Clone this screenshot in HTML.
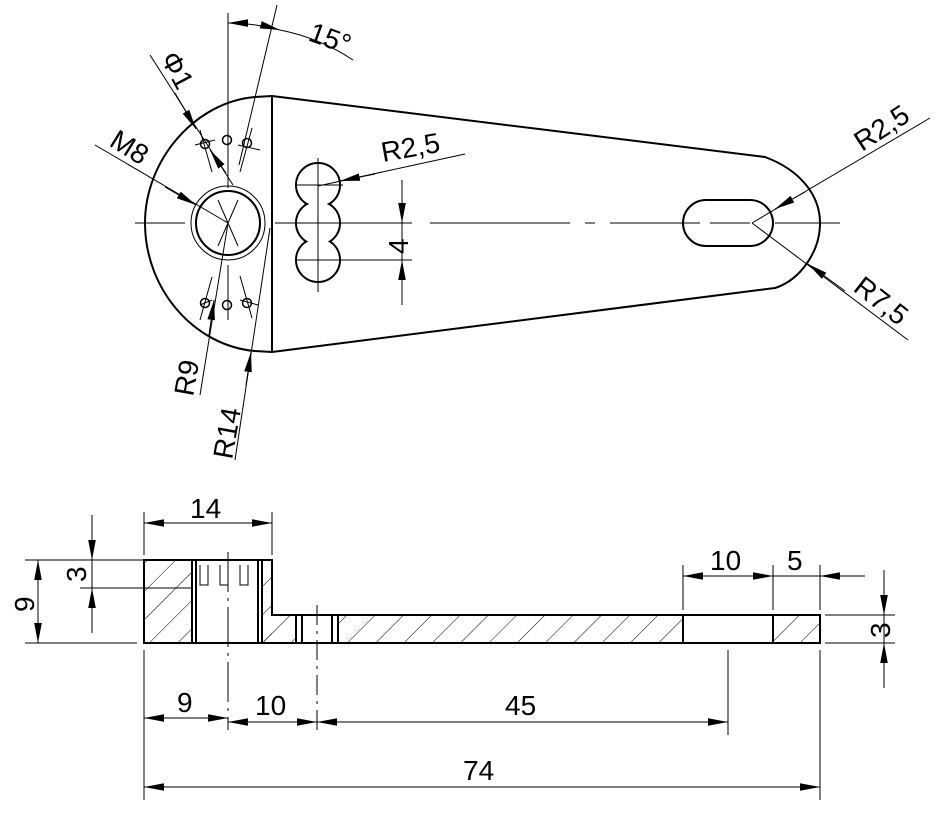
<!DOCTYPE html>
<html><head><style>
html,body{margin:0;padding:0;background:#fff}
svg{display:block}
text{font-family:"Liberation Sans",sans-serif;font-size:28px;fill:#000}
</style></head><body>
<svg width="946" height="816" viewBox="0 0 946 816" xmlns="http://www.w3.org/2000/svg">
<defs>
<marker id="a" viewBox="0 -5 20 10" refX="20" refY="0" markerWidth="20" markerHeight="10" markerUnits="userSpaceOnUse" orient="auto-start-reverse">
<path d="M0,-3.8 L20,0 L0,3.8 z" fill="#000"/></marker>
<pattern id="h" patternUnits="userSpaceOnUse" width="20" height="20" patternTransform="rotate(45)">
<line x1="0" y1="0" x2="0" y2="20" stroke="#000" stroke-width="1"/></pattern>
</defs>
<g fill="none" stroke="#000" stroke-width="1">
<g stroke-width="2">
<path d="M272,96 L255,97 C195,102 145,160 145,223 C145,290 195,346 255,351 L272,352"/>
<line x1="272" y1="96" x2="272" y2="352"/>
<path d="M272,96 L765,157 C800,170 820,195 820,223 C820,252 800,280 775,288 L272,352"/>
<rect x="683" y="200" width="90" height="46" rx="23"/>
<circle cx="228" cy="223" r="32"/>
<circle cx="318" cy="185" r="22"/><circle cx="318" cy="223" r="22"/><circle cx="318" cy="260" r="22"/>
</g>
<g fill="#fff" stroke="none">
<circle cx="318" cy="185" r="21"/><circle cx="318" cy="223" r="21"/><circle cx="318" cy="260" r="21"/>
</g>
<circle cx="228" cy="223" r="37"/>
<g stroke-width="1.5">
<circle cx="205" cy="144" r="4.5"/><circle cx="227" cy="140" r="4.5"/><circle cx="247" cy="143" r="4.5"/>
<circle cx="205" cy="303" r="4.5"/><circle cx="227" cy="305" r="4.5"/><circle cx="247" cy="303" r="4.5"/>
</g>
<line x1="195" y1="145" x2="215" y2="140"/><line x1="200" y1="130" x2="212" y2="172"/>
<line x1="238" y1="145" x2="260" y2="150"/><line x1="252" y1="128" x2="240" y2="172"/>
<line x1="200" y1="305" x2="212" y2="300"/><line x1="212" y1="277" x2="200" y2="320"/>
<line x1="240" y1="300" x2="258" y2="305"/><line x1="240" y1="276" x2="252" y2="318"/>
<line x1="228" y1="265" x2="228" y2="320"/>
<path d="M135,223 H185 M275,223 H350 M380,223 H390 M430,223 H570 M585,223 H595 M610,223 H700 M710,223 H750 M775,223 H840"/>
<line x1="228" y1="13" x2="228" y2="188"/>
<line x1="277" y1="5" x2="239" y2="165"/>
<line x1="218" y1="200" x2="238" y2="246"/><line x1="238" y1="200" x2="218" y2="246"/>
<line x1="297" y1="185" x2="343" y2="185"/><line x1="297" y1="260" x2="343" y2="260"/>
<line x1="318" y1="158" x2="318" y2="292"/>
<path d="M228,23 A200,200 0 0 1 280,30" marker-start="url(#a)" marker-end="url(#a)"/>
<path d="M280,30 Q320,38 353,60"/>
<line x1="150" y1="55" x2="233" y2="185"/>
<line x1="175" y1="93" x2="196" y2="129" marker-end="url(#a)"/>
<line x1="226" y1="173" x2="210" y2="150" marker-end="url(#a)"/>
<line x1="95" y1="145" x2="228" y2="223"/>
<line x1="165" y1="187" x2="196" y2="205" marker-end="url(#a)"/>
<line x1="228" y1="223" x2="200" y2="395"/>
<line x1="209" y1="335" x2="214" y2="300" marker-end="url(#a)"/>
<line x1="270" y1="228" x2="235" y2="460"/>
<line x1="246" y1="385" x2="251" y2="352" marker-end="url(#a)"/>
<line x1="318" y1="186" x2="465" y2="154"/>
<line x1="375" y1="174" x2="340" y2="181" marker-end="url(#a)"/>
<line x1="402" y1="180" x2="402" y2="305"/>
<line x1="402" y1="198" x2="402" y2="223" marker-end="url(#a)"/>
<line x1="402" y1="285" x2="402" y2="260" marker-end="url(#a)"/>
<line x1="322" y1="260" x2="412" y2="260"/>
<line x1="345" y1="223" x2="412" y2="223"/>
<line x1="752" y1="223" x2="930" y2="118"/>
<line x1="805" y1="192" x2="775" y2="209" marker-end="url(#a)"/>
<line x1="752" y1="223" x2="908" y2="340"/>
<line x1="845" y1="291" x2="808" y2="264" marker-end="url(#a)"/>

<g stroke="none">
<rect x="144" y="560" width="48" height="83" fill="url(#h)"/>
<rect x="262" y="560" width="10" height="83" fill="url(#h)"/>
<rect x="262" y="615" width="33" height="28" fill="url(#h)"/>
<rect x="338" y="615" width="345" height="28" fill="url(#h)"/>
<rect x="773" y="615" width="47" height="28" fill="url(#h)"/>
</g>
<path stroke-width="2" d="M144,560 H272 V615 H820 V643 H144 Z"/>
<g stroke-width="2">
<path d="M192,560 V643 M196,560 V643 M258,560 V643 M262,560 V643 M296,615 V643 M302,615 V643 M332,615 V643 M338,615 V643 M683,615 V643 M773,615 V643"/>
</g>
<path d="M200,565 V585 H208 V565 M220,565 V585 H228 V565 M240,565 V585 H248 V565"/>
<line x1="228" y1="552" x2="228" y2="730" stroke-dasharray="40,6,3,6"/>
<line x1="317" y1="605" x2="317" y2="732" stroke-dasharray="20,6,3,6"/>
<path d="M25,560 H144 M25,643 H137 M80,588 H193 M144,512 V555 M272,512 V555 M144,650 V800 M820,650 V800 M728,650 V735 M683,565 V610 M773,565 V610 M820,565 V610 M825,615 H895 M825,643 H895"/>
<line x1="144" y1="523" x2="272" y2="523" marker-start="url(#a)" marker-end="url(#a)"/>
<line x1="38" y1="560" x2="38" y2="643" marker-start="url(#a)" marker-end="url(#a)"/>
<line x1="92" y1="515" x2="92" y2="560" marker-end="url(#a)"/>
<line x1="92" y1="633" x2="92" y2="588" marker-end="url(#a)"/>
<line x1="92" y1="560" x2="92" y2="588"/>
<line x1="144" y1="718" x2="228" y2="718" marker-start="url(#a)" marker-end="url(#a)"/>
<line x1="228" y1="722" x2="317" y2="722" marker-start="url(#a)" marker-end="url(#a)"/>
<line x1="317" y1="722" x2="728" y2="722" marker-start="url(#a)" marker-end="url(#a)"/>
<line x1="144" y1="787" x2="820" y2="787" marker-start="url(#a)" marker-end="url(#a)"/>
<line x1="683" y1="576" x2="773" y2="576" marker-start="url(#a)" marker-end="url(#a)"/>
<line x1="773" y1="576" x2="820" y2="576"/>
<line x1="865" y1="576" x2="820" y2="576" marker-end="url(#a)"/>
<line x1="884" y1="570" x2="884" y2="615" marker-end="url(#a)"/>
<line x1="884" y1="688" x2="884" y2="643" marker-end="url(#a)"/>
<line x1="884" y1="615" x2="884" y2="643"/>
</g>
<text x="307" y="40" transform="rotate(20 307 40)">15°</text>
<text x="160" y="58" transform="rotate(62 160 58)">Φ1</text>
<text x="108" y="145" transform="rotate(32 108 145)">M8</text>
<text x="193" y="397" transform="rotate(-80 193 397)">R9</text>
<text x="232" y="460" transform="rotate(-80 232 460)">R14</text>
<text x="383" y="162" transform="rotate(-10 383 162)">R2,5</text>
<text x="408" y="254" transform="rotate(-90 408 254)">4</text>
<text x="862" y="152" transform="rotate(-33 862 152)">R2,5</text>
<text x="852" y="290" transform="rotate(38 852 290)">R7,5</text>
<text x="190" y="518">14</text>
<text x="34" y="612" transform="rotate(-90 34 612)">9</text>
<text x="86" y="582" transform="rotate(-90 86 582)">3</text>
<text x="177" y="712">9</text>
<text x="255" y="715">10</text>
<text x="505" y="715">45</text>
<text x="463" y="780">74</text>
<text x="710" y="570">10</text>
<text x="787" y="570">5</text>
<text x="890" y="638" transform="rotate(-90 890 638)">3</text>
</svg>
</body></html>
